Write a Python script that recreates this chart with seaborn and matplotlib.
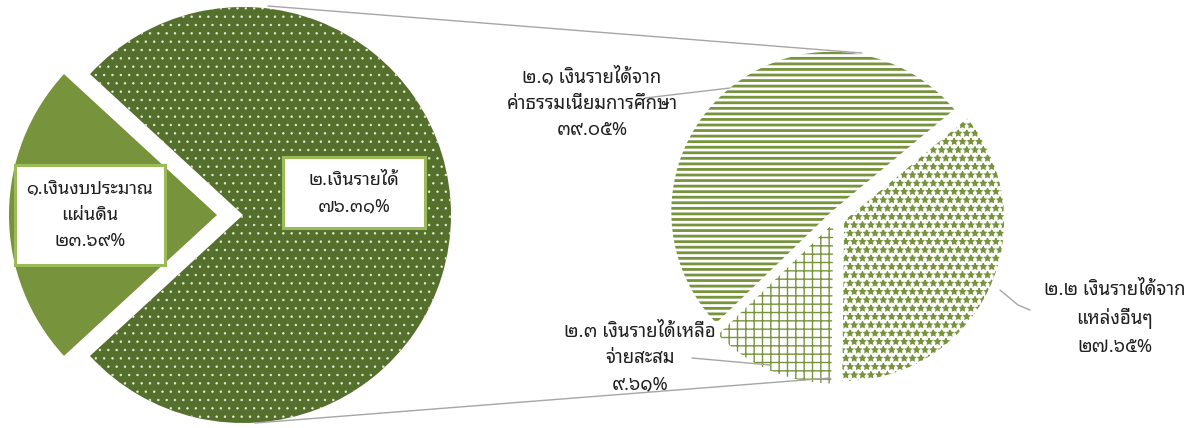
import matplotlib
matplotlib.use("Agg")
import matplotlib.pyplot as plt
from matplotlib.patches import Rectangle
import seaborn as sns

# data
main_labels = ["๑.เงินงบประมาณ\nแผ่นดิน\n๒๓.๖๙%", "๒.เงินรายได้\n๗๖.๓๑%"]
main_values = [23.69, 76.31]
sub_labels = ["๒.๑ เงินรายได้จาก\nค่าธรรมเนียมการศึกษา\n๓๙.๐๕%",
              "๒.๒ เงินรายได้จาก\nแหล่งอื่นๆ\n๒๗.๖๕%",
              "๒.๓ เงินรายได้เหลือ\nจ่ายสะสม\n๙.๖๑%"]
sub_values = [39.05, 27.65, 9.61]

sns.set_theme(style="white")
plt.rcParams['font.family'] = ['Noto Sans Thai Looped', 'Noto Sans Thai', 'DejaVu Sans']

W, H = 1193, 428
fig = plt.figure(figsize=(W / 100, H / 100), dpi=100)
ax = fig.add_axes([0, 0, 1, 1])

dark = '#55702D'
light = '#77933C'
txt = '#1F1F1F'
grey = '#A6A6A6'

# left pie, small slice pulled out to the left
small_deg = main_values[0] / sum(main_values) * 360
plt.rcParams['hatch.linewidth'] = 0.5
wedges, _ = ax.pie(main_values, center=(243, H - 215), radius=208,
                   startangle=180 - small_deg / 2, explode=[26, 0],
                   colors=[light, dark], frame=True,
                   wedgeprops=dict(linewidth=0))
wedges[1].set_hatch('..')
wedges[1].set_edgecolor('#E8EEDA')

# right pie (clockwise: 2.1, 2.2, 2.3)
sub_wedges, _ = ax.pie(sub_values, center=(836, H - 217), radius=160,
                       startangle=224, counterclock=False,
                       explode=[7, 9, 7],
                       colors=['white', 'white', 'white'], frame=True,
                       wedgeprops=dict(linewidth=0))
for w, h, lw in zip(sub_wedges, ['---', '**', '++'], [2.0, 1.0, 1.0]):
    w.set_hatch(h)
    w.set_edgecolor(light)
    w.set_hatch_linewidth(lw)

ax.set_xlim(0, W)
ax.set_ylim(0, H)
ax.set_aspect('equal')
ax.axis('off')

# connector lines between the pies
ax.plot([268, 862], [H - 6, H - 53], color=grey, lw=1)
ax.plot([255, 830], [H - 423, H - 378], color=grey, lw=1)

# left labels in boxes
ax.add_patch(Rectangle((15, H - 265), 150, 100, facecolor='white',
                       edgecolor='#9BBB59', lw=2.2, zorder=5))
ax.add_patch(Rectangle((283, H - 228), 142, 71, facecolor='white',
                       edgecolor='#9BBB59', lw=2.2, zorder=5))
ax.text(90, H - 215, main_labels[0], ha='center', va='center', fontsize=13,
        color=txt, linespacing=1.6, zorder=6)
ax.text(354, H - 193, main_labels[1], ha='center', va='center', fontsize=13,
        color=txt, linespacing=1.6, zorder=6)

# right labels with leader lines
ax.text(592, H - 103, sub_labels[0], ha='center', va='center', fontsize=13.3,
        color=txt, linespacing=1.6)
ax.plot([645, 730], [H - 98, H - 88], color=grey, lw=1)
ax.text(1115, H - 318, sub_labels[1], ha='center', va='center', fontsize=13.3,
        color=txt, linespacing=1.6)
ax.plot([1000, 1018, 1030], [H - 290, H - 305, H - 310], color=grey, lw=1)
ax.text(640, H - 358, sub_labels[2], ha='center', va='center', fontsize=13.3,
        color=txt, linespacing=1.6)
ax.plot([692, 770], [H - 358, H - 365], color=grey, lw=1)

fig.savefig("out.png", dpi=100)
